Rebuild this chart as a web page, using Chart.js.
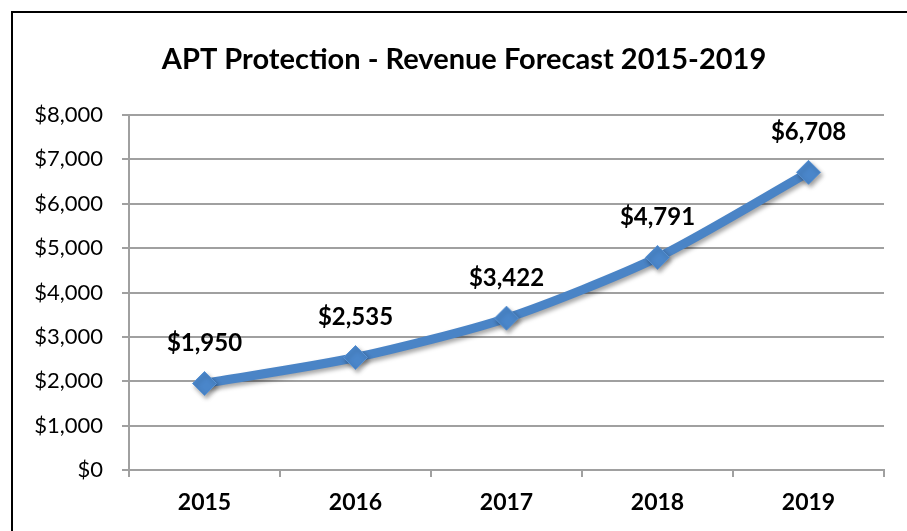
<!DOCTYPE html>
<html><head><meta charset="utf-8">
<script src="https://cdn.jsdelivr.net/npm/chart.js@4"></script>
<style>html,body{margin:0;padding:0;background:#fff}#wrap{width:907px;height:531px}</style>
</head><body><div id="wrap"><canvas id="c" width="907" height="531"></canvas></div>
<script>
const categories = ["2015", "2016", "2017", "2018", "2019"];
const revenue = [1950, 2535, 3422, 4791, 6708];
const yTicks = [0, 1000, 2000, 3000, 4000, 5000, 6000, 7000, 8000];
const titleText = "APT Protection - Revenue Forecast 2015-2019";
const FONT = "Lato, 'Open Sans', sans-serif";

const fmt = v => "$" + v.toLocaleString("en-US");

const frame = {
  id: "frame",
  beforeDraw(chart) {
    const ctx = chart.ctx;
    ctx.save();
    ctx.fillStyle = "#fff";
    ctx.fillRect(0, 0, chart.width, chart.height);
    ctx.strokeStyle = "#000";
    ctx.lineWidth = 2;
    ctx.strokeRect(12, 12, chart.width + 20, chart.height + 20);
    ctx.font = "bold 29px " + FONT;
    ctx.fillStyle = "#000";
    ctx.textAlign = "center";
    ctx.textBaseline = "middle";
    ctx.fillText(titleText, 464, 60);
    ctx.restore();
  }
};
const shadow = {
  id: "shadow",
  beforeDatasetsDraw(chart) {
    const ctx = chart.ctx;
    ctx.save();
    ctx.shadowColor = "rgba(0,0,0,0.35)";
    ctx.shadowBlur = 4;
    ctx.shadowOffsetX = 2;
    ctx.shadowOffsetY = 3;
  },
  afterDatasetsDraw(chart) {
    chart.ctx.restore();
  }
};
const labels = {
  id: "labels",
  afterDatasetsDraw(chart) {
    const ctx = chart.ctx;
    const meta = chart.getDatasetMeta(0);
    ctx.save();
    ctx.font = "bold 24px " + FONT;
    ctx.fillStyle = "#000";
    ctx.textAlign = "center";
    ctx.textBaseline = "middle";
    meta.data.forEach((pt, i) => {
      ctx.fillText(fmt(chart.data.datasets[0].data[i]), pt.x, pt.y - 40);
    });
    ctx.restore();
  }
};

new Chart(document.getElementById("c"), {
  type: "line",
  data: {
    labels: categories,
    datasets: [{
      data: revenue,
      borderColor: "#4a84c6",
      borderWidth: 9,
      tension: 0.25,
      pointStyle: "rectRot",
      pointRadius: 12,
      pointHoverRadius: 12,
      pointBackgroundColor: "#4a86ca",
      pointBorderColor: "#5a92d2",
      pointBorderWidth: 1
    }]
  },
  options: {
    responsive: false,
    animation: false,
    devicePixelRatio: 1,
    layout: { padding: { left: 20, right: 23, top: 115, bottom: 0 } },
    plugins: {
      legend: { display: false },
      tooltip: { enabled: false },
      title: { display: false }
    },
    scales: {
      x: {
        offset: true,
        grid: { offset: true, drawOnChartArea: false, color: "#a0a0a0", lineWidth: 2, tickLength: 7 },
        border: { color: "#a0a0a0", width: 2 },
        ticks: { color: "#000", font: { family: FONT, size: 23, weight: "bold" }, padding: 12 },
        afterFit(s) { s.height = 61; }
      },
      y: {
        min: 0, max: 8000,
        afterBuildTicks(s) { s.ticks = yTicks.map(v => ({ value: v })); },
        grid: { color: "#a0a0a0", lineWidth: 2, tickLength: 7 },
        border: { color: "#a0a0a0", width: 2 },
        ticks: { color: "#000", font: { family: FONT, size: 22 }, padding: 19, callback: v => fmt(v) },
        afterFit(s) { s.width = 109; }
      }
    }
  },
  plugins: [frame, shadow, labels]
});
</script></body></html>
